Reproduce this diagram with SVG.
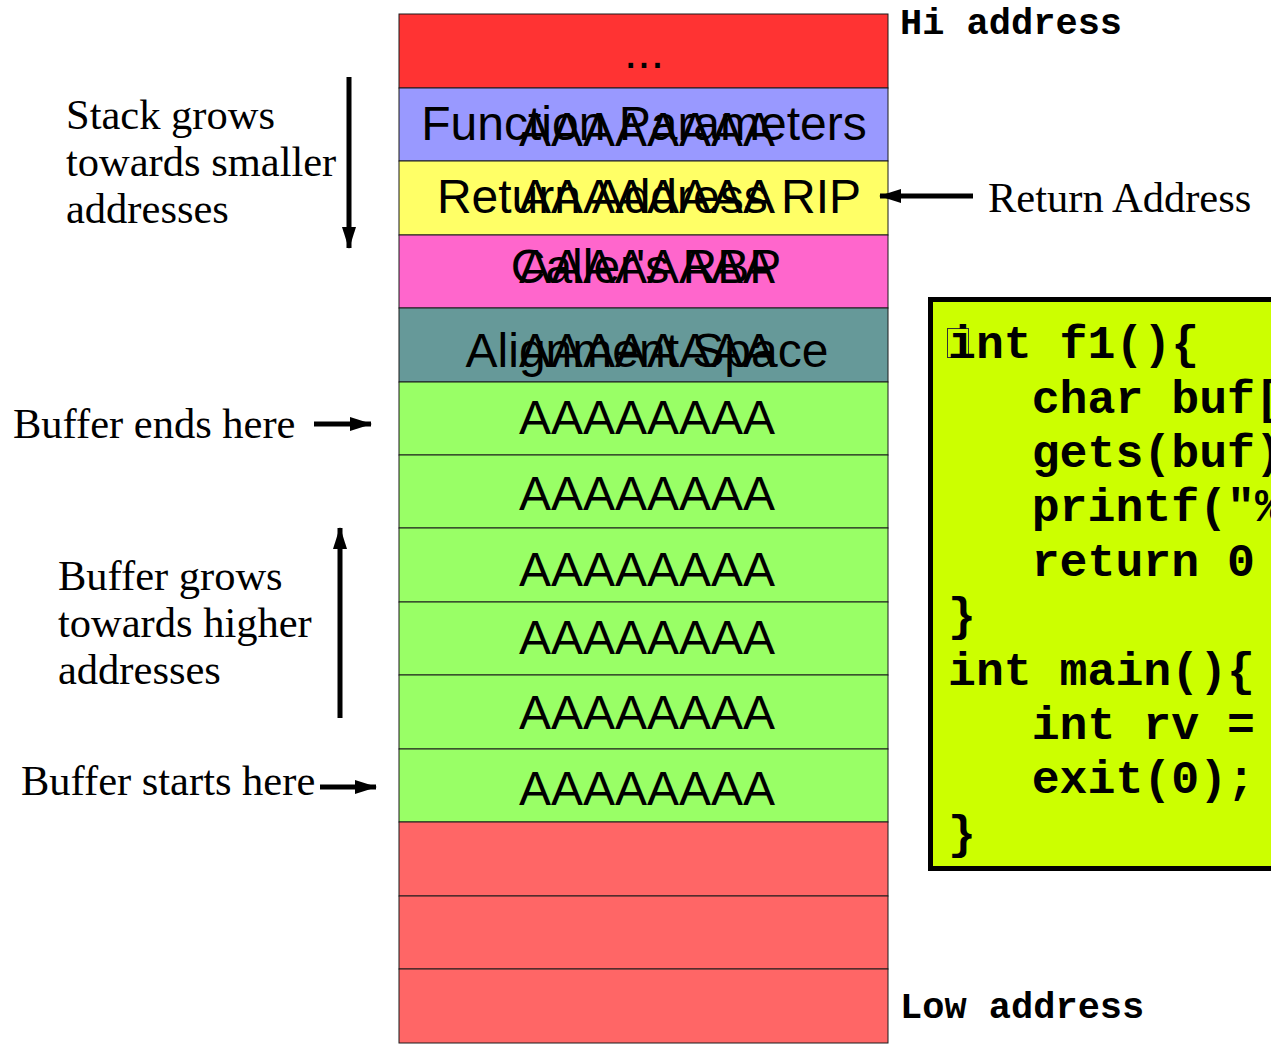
<svg xmlns="http://www.w3.org/2000/svg" width="1271" height="1048" viewBox="0 0 1271 1048">
  <style>
    .cell { stroke: #1a1a1a; stroke-width: 1; }
    .sans { font-family: "Liberation Sans", Arial, sans-serif; font-size: 48px; fill: #000; text-anchor: middle; }
    .serif { font-family: "Liberation Serif", "Times New Roman", serif; font-size: 42.5px; fill: #000; }
    .mono { font-family: "Liberation Mono", "Courier New", monospace; font-weight: bold; fill: #000; }
    .code { font-size: 46.5px; white-space: pre; }
    .addr { font-size: 37px; }
    .conn { stroke: #000; stroke-width: 5; fill: none; }
  </style>
  <defs>
    <marker id="head" viewBox="0 0 11 7" refX="10.5" refY="3.5" markerWidth="4.4" markerHeight="2.8" markerUnits="strokeWidth" orient="auto">
      <path d="M0,0 L11,3.5 L0,7 z" fill="#000"/>
    </marker>
  </defs>
  <rect width="1271" height="1048" fill="#fff"/>

  <!-- stack frame cells, top (high address) to bottom -->
  <g id="cell-top"><rect class="cell" x="399" y="14" width="489" height="74" fill="#ff3333"/><text class="sans" x="644" y="68">...</text></g>
  <g id="cell-params"><rect class="cell" x="399" y="88" width="489" height="73" fill="#9999ff"/><text class="sans" x="644" y="140">Function Parameters</text><text class="sans" x="647" y="146">AAAAAAAA</text></g>
  <g id="cell-rip"><rect class="cell" x="399" y="161" width="489" height="74" fill="#ffff66"/><text class="sans" x="649" y="213">Return Address RIP</text><text class="sans" x="647" y="213">AAAAAAAA</text></g>
  <g id="cell-rbp"><rect class="cell" x="399" y="235" width="489" height="73" fill="#ff66cc"/><text class="sans" x="646" y="283">Caller's RBP</text><text class="sans" x="647" y="283">AAAAAAAA</text></g>
  <g id="cell-align"><rect class="cell" x="399" y="308" width="489" height="74" fill="#669999"/><text class="sans" x="647" y="367">Alignment Space</text><text class="sans" x="647" y="367">AAAAAAAA</text></g>
  <g id="cell-buf1"><rect class="cell" x="399" y="382" width="489" height="73" fill="#99ff66"/><text class="sans" x="647" y="434">AAAAAAAA</text></g>
  <g id="cell-buf2"><rect class="cell" x="399" y="455" width="489" height="73" fill="#99ff66"/><text class="sans" x="647" y="510">AAAAAAAA</text></g>
  <g id="cell-buf3"><rect class="cell" x="399" y="528" width="489" height="74" fill="#99ff66"/><text class="sans" x="647" y="586">AAAAAAAA</text></g>
  <g id="cell-buf4"><rect class="cell" x="399" y="602" width="489" height="73" fill="#99ff66"/><text class="sans" x="647" y="654">AAAAAAAA</text></g>
  <g id="cell-buf5"><rect class="cell" x="399" y="675" width="489" height="74" fill="#99ff66"/><text class="sans" x="647" y="729">AAAAAAAA</text></g>
  <g id="cell-buf6"><rect class="cell" x="399" y="749" width="489" height="73" fill="#99ff66"/><text class="sans" x="647" y="805">AAAAAAAA</text></g>
  <g id="cell-low1"><rect class="cell" x="399" y="822" width="489" height="74" fill="#ff6666"/></g>
  <g id="cell-low2"><rect class="cell" x="399" y="896" width="489" height="73" fill="#ff6666"/></g>
  <g id="cell-low3"><rect class="cell" x="399" y="969" width="489" height="74" fill="#ff6666"/></g>

  <!-- address labels -->
  <g id="label-hi"><text class="mono addr" x="900" y="34">Hi address</text></g>
  <g id="label-low"><text class="mono addr" x="900" y="1018">Low address</text></g>

  <!-- side notes -->
  <g id="note-stack"><text class="serif" x="66" y="129">Stack grows</text><text class="serif" x="66" y="176">towards smaller</text><text class="serif" x="66" y="223">addresses</text></g>
  <g id="note-buf-end"><text class="serif" x="13" y="438">Buffer ends here</text></g>
  <g id="note-buf-grow"><text class="serif" x="58" y="590">Buffer grows</text><text class="serif" x="58" y="637">towards higher</text><text class="serif" x="58" y="684">addresses</text></g>
  <g id="note-buf-start"><text class="serif" x="21" y="795">Buffer starts here</text></g>
  <g id="note-ret"><text class="serif" x="988" y="212">Return Address</text></g>

  <!-- source listing -->
  <g id="code">
    <rect x="930.5" y="299.5" width="360" height="569" fill="#ccff00" stroke="#000" stroke-width="5"/>
    <rect x="947.5" y="328.5" width="21" height="29" fill="none" stroke="#333" stroke-width="1"/>
    <text class="mono code" x="948" y="358">int f1(){</text>
    <text class="mono code" x="948" y="413">   char buf[</text>
    <text class="mono code" x="948" y="467">   gets(buf)</text>
    <text class="mono code" x="948" y="521">   printf("%</text>
    <text class="mono code" x="948" y="576">   return 0</text>
    <text class="mono code" x="948" y="630">}</text>
    <text class="mono code" x="948" y="685">int main(){</text>
    <text class="mono code" x="948" y="739">   int rv =</text>
    <text class="mono code" x="948" y="793">   exit(0);</text>
    <text class="mono code" x="948" y="848">}</text>
  </g>

  <!-- connectors -->
  <g id="connectors">
    <line class="conn" x1="349" y1="77" x2="349" y2="248" marker-end="url(#head)"/>
    <line class="conn" x1="340" y1="718" x2="340" y2="528" marker-end="url(#head)"/>
    <line class="conn" x1="314" y1="424" x2="371" y2="424" marker-end="url(#head)"/>
    <line class="conn" x1="320" y1="787" x2="376" y2="787" marker-end="url(#head)"/>
    <line class="conn" x1="973" y1="196" x2="880" y2="196" marker-end="url(#head)"/>
  </g>
</svg>
